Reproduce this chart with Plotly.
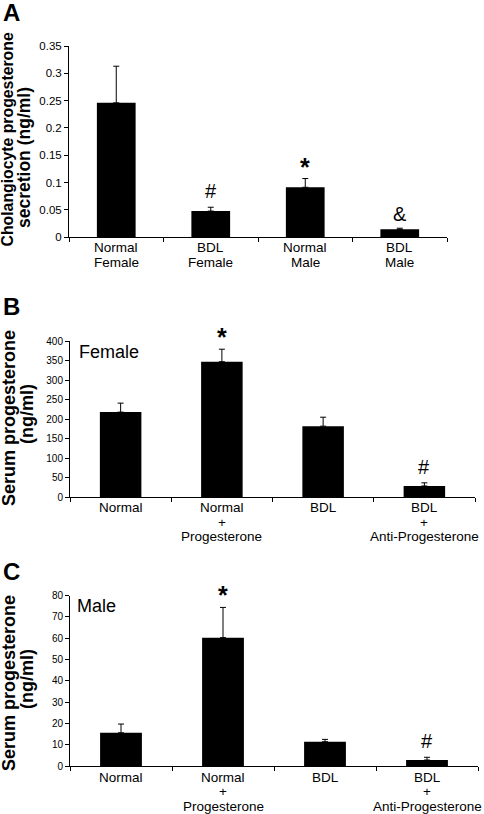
import plotly.graph_objects as go

W, H = 484, 814
FONT = "Liberation Sans, Arial, sans-serif"

# ---------------- data ----------------
A_categories = ["Normal Female", "BDL Female", "Normal Male", "BDL Male"]
A_label_lines = [["Normal", "Female"], ["BDL", "Female"], ["Normal", "Male"], ["BDL", "Male"]]
A_values = [0.246, 0.048, 0.0915, 0.0146]
A_errors = [0.067, 0.007, 0.016, 0.002]
A_marks = ["", "#", "*", "&"]
A_ticks = [0, 0.05, 0.1, 0.15, 0.2, 0.25, 0.3, 0.35]
A_ticktext = ["0", "0.05", "0.1", "0.15", "0.2", "0.25", "0.3", "0.35"]

BC_categories = ["Normal", "Normal + Progesterone", "BDL", "BDL + Anti-Progesterone"]
BC_label_lines = [["Normal"], ["Normal", "+", "Progesterone"], ["BDL"], ["BDL", "+", "Anti-Progesterone"]]

B_values = [218, 347, 182, 29]
B_errors = [23, 32, 23, 8]
B_marks = ["", "*", "", "#"]
B_ticks = [0, 50, 100, 150, 200, 250, 300, 350, 400]

C_values = [15.6, 60.3, 11.4, 2.8]
C_errors = [4.1, 14.2, 1.1, 1.3]
C_marks = ["", "*", "", "#"]
C_ticks = [0, 10, 20, 30, 40, 50, 60, 70, 80]


def px(x):
    return x / W


def py(y):
    return 1 - y / H


fig = go.Figure()

panels = [
    ("", A_categories, A_label_lines, A_values, A_errors, A_marks, A_ticks, A_ticktext,
     69, 447, 46, 237.3, 0.35, 11.5, [247.5, 262.5]),
    ("2", BC_categories, BC_label_lines, B_values, B_errors, B_marks, B_ticks, [str(t) for t in B_ticks],
     70, 475, 341, 497.3, 400, 10, [507.5, 522, 536.5]),
    ("3", BC_categories, BC_label_lines, C_values, C_errors, C_marks, C_ticks, [str(t) for t in C_ticks],
     70, 478, 595.7, 766, 80, 10, [777, 791.5, 806]),
]

annotations = []
for (sfx, cats, lines, vals, errs, marks, ticks, ticktext, x0, x1, yt, yb, ymax, tfs, rows) in panels:
    xa = "x" + sfx
    ya = "y" + sfx
    fig.add_trace(go.Bar(
        x=cats, y=vals, xaxis=xa, yaxis=ya,
        marker=dict(color="black", line=dict(width=0)),
        width=0.41,
        error_y=dict(type="data", array=errs, arrayminus=[0] * len(errs), symmetric=False,
                     color="black", thickness=1, width=3),
        showlegend=False,
    ))
    fig.layout["xaxis" + sfx] = dict(
        domain=[px(x0), px(x1)], anchor=ya, type="category",
        categoryorder="array", categoryarray=cats, range=[-0.5, 3.5],
        showline=True, linecolor="black", linewidth=1,
        ticks="outside", tickson="boundaries", ticklen=4, tickcolor="black", tickwidth=1,
        showticklabels=False, showgrid=False, zeroline=False, fixedrange=True,
    )
    fig.layout["yaxis" + sfx] = dict(
        domain=[py(yb), py(yt)], anchor=xa, range=[0, ymax],
        tickvals=ticks, ticktext=ticktext,
        showline=True, linecolor="black", linewidth=1,
        ticks="outside", ticklen=4, tickcolor="black", tickwidth=1,
        tickfont=dict(family=FONT, size=tfs, color="black"),
        showgrid=False, zeroline=False, fixedrange=True,
    )
    for c, ls in zip(cats, lines):
        for i, t in enumerate(ls):
            annotations.append(dict(
                x=c, xref=xa, y=py(rows[i]), yref="paper", text=t, showarrow=False,
                xanchor="center", yanchor="middle",
                font=dict(family=FONT, size=13.5, color="black"),
            ))
    for c, v, e, m in zip(cats, vals, errs, marks):
        if m:
            shift = {"#": 16, "*": 12, "&": 14}[m]
            txt = "<b>*</b>" if m == "*" else m
            annotations.append(dict(
                x=c, xref=xa, y=v + e, yref=ya, text=txt, showarrow=False,
                xanchor="center", yanchor="middle", yshift=shift,
                font=dict(family=FONT, size=20 if m != "*" else 25, color="black"),
            ))

for letter, yc in [("A", 12), ("B", 306), ("C", 571)]:
    annotations.append(dict(
        x=px(0.5), xref="paper", y=py(yc), yref="paper", text="<b>%s</b>" % letter,
        showarrow=False, xanchor="left", yanchor="middle",
        font=dict(family=FONT, size=24, color="black"),
    ))

ytitles = [
    ("Cholangiocyte progesterone", 7.5, 140, 15.8),
    ("secretion (ng/ml)", 24, 158, 17.5),
    ("Serum progesterone", 9, 418, 18),
    ("(ng/ml)", 27, 414, 18),
    ("Serum progesterone", 9, 683, 18),
    ("(ng/ml)", 27, 679, 18),
]
for t, xc, yc, fs in ytitles:
    annotations.append(dict(
        x=px(xc), xref="paper", y=py(yc), yref="paper", text="<b>%s</b>" % t,
        showarrow=False, textangle=-90, xanchor="center", yanchor="middle",
        font=dict(family=FONT, size=fs, color="black"),
    ))

annotations.append(dict(x=px(77), xref="paper", y=py(351.5), yref="paper", text="Female",
                        showarrow=False, xanchor="left", yanchor="middle",
                        font=dict(family=FONT, size=18, color="black")))
annotations.append(dict(x=px(75), xref="paper", y=py(606), yref="paper", text="Male",
                        showarrow=False, xanchor="left", yanchor="middle",
                        font=dict(family=FONT, size=18, color="black")))

fig.update_layout(
    width=W, height=H,
    margin=dict(l=0, r=0, t=0, b=0, autoexpand=False),
    paper_bgcolor="white", plot_bgcolor="white",
    font=dict(family=FONT, color="black"),
    annotations=annotations,
    showlegend=False,
)

fig.write_html(
    "out.html",
    config={"displayModeBar": False},
    post_script="document.body.style.margin='0';document.body.style.padding='0';document.body.style.overflow='hidden';",
)
